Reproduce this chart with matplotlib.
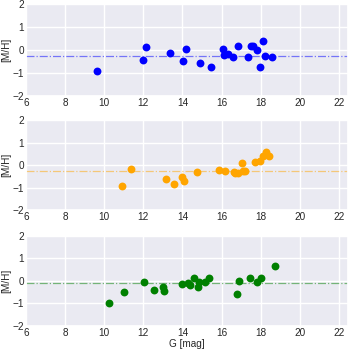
import matplotlib
matplotlib.use("Agg")
import matplotlib.pyplot as plt
import seaborn as sns
import numpy as np

sns.set_theme(style="darkgrid")
plt.rcParams['font.family'] = ['Liberation Sans', 'DejaVu Sans']

g_blue = [9.64, 11.98, 12.15, 13.37, 14.04, 14.18, 14.89, 15.47, 16.09, 16.14, 16.33,
          16.58, 16.84, 17.33, 17.48, 17.60, 17.80, 17.97, 18.12, 18.23, 18.58]
m_blue = [-0.91, -0.44, 0.14, -0.15, -0.49, 0.02, -0.57, -0.73, 0.02, -0.24, -0.18,
          -0.30, 0.15, -0.33, 0.18, 0.18, -0.01, -0.75, 0.39, -0.25, -0.30]

g_orange = [10.93, 11.37, 13.15, 13.57, 13.97, 14.06, 14.74, 15.89, 16.18, 16.62, 16.70,
            16.84, 17.04, 17.11, 17.19, 17.72, 17.94, 18.09, 18.29, 18.43]
m_orange = [-0.92, -0.19, -0.64, -0.83, -0.52, -0.71, -0.30, -0.22, -0.25, -0.31, -0.34,
            -0.34, 0.07, -0.27, -0.27, 0.13, 0.16, 0.39, 0.59, 0.40]

g_green = [10.22, 11.03, 12.03, 12.55, 12.99, 13.04, 13.96, 14.30, 14.38, 14.58, 14.77,
           14.86, 15.16, 15.36, 16.79, 16.89, 17.46, 17.80, 17.99, 18.72]
m_green = [-1.00, -0.51, -0.04, -0.41, -0.26, -0.44, -0.15, -0.11, -0.20, 0.11, -0.26,
           -0.04, -0.07, 0.15, -0.58, 0.01, 0.14, -0.04, 0.14, 0.66]

mean_lines = [-0.25, -0.27, -0.11]
colors = ['blue', 'orange', 'green']
xticks = [6, 8, 10, 12, 14, 16, 18, 20, 22]
yticks = [-2, -1, 0, 1, 2]

fig = plt.figure(figsize=(3.5, 3.5), dpi=100)
positions = [(0.074, 0.726, 0.920, 0.263),
             (0.074, 0.400, 0.920, 0.257),
             (0.074, 0.069, 0.920, 0.257)]
data = [(g_blue, m_blue), (g_orange, m_orange), (g_green, m_green)]

for i, ((gx, my), c, ml, pos) in enumerate(zip(data, colors, mean_lines, positions)):
    ax = fig.add_axes(pos)
    ax.scatter(gx, my, s=32, color=c, zorder=3, linewidths=0)
    ax.axhline(ml, color=c, alpha=0.5, ls='-.', lw=0.9, zorder=2)
    ax.set_xlim(6, 22.45)
    ax.set_ylim(-2, 2)
    ax.set_xticks(xticks)
    ax.set_yticks(yticks)
    ax.tick_params(labelsize=7.2, pad=1.5, length=0)
    ax.set_ylabel('[M/H]', fontsize=7.2, labelpad=1)
    if i == 2:
        ax.set_xlabel('G [mag]', fontsize=7.2, labelpad=0.5)

fig.savefig('out.png', dpi=100)
